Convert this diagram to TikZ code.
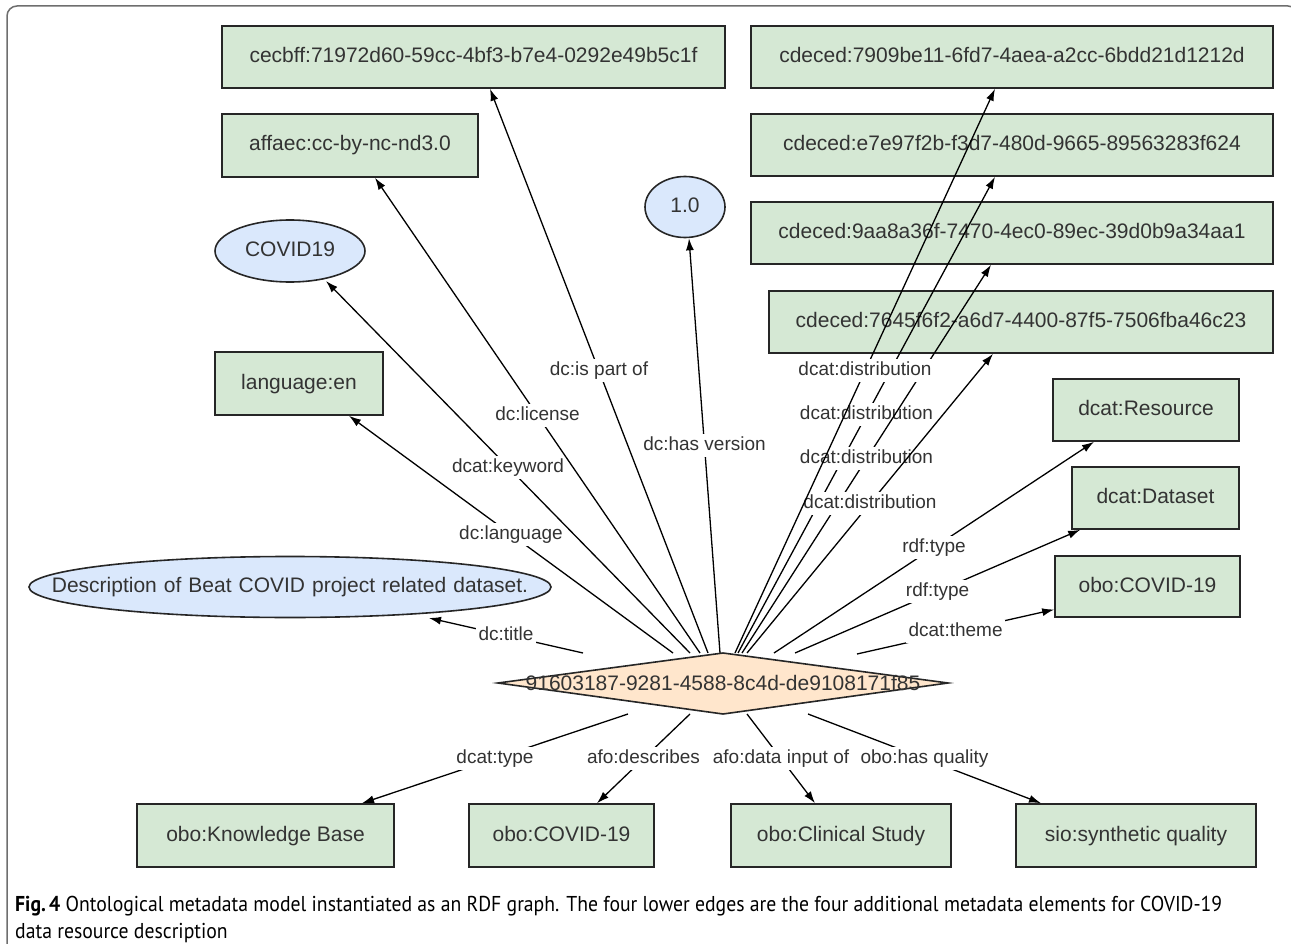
\documentclass[tikz,border=0pt]{standalone}
\usepackage{fontspec}
\usepackage{graphicx}
\setmainfont{Liberation Sans}
\newfontfamily\capfont{PT Sans}
\usetikzlibrary{arrows.meta,calc,shapes.geometric}
\definecolor{gfill}{HTML}{D5E8D4}
\definecolor{bfill}{HTML}{DAE8FC}
\definecolor{ofill}{HTML}{FFE6CC}
\definecolor{txt}{HTML}{333333}
\definecolor{edgec}{HTML}{262626}
\definecolor{framec}{HTML}{6E6E6E}
\newsavebox\capboxA
\newsavebox\capboxB
\newlength\capwA
\begin{document}
\sbox\capboxA{\capfont\fontsize{21.5}{25}\selectfont\textbf{Fig.\,4} Ontological metadata model instantiated as an RDF graph. The four lower edges are the four additional metadata elements for COVID-19}%
\sbox\capboxB{\capfont\fontsize{21.5}{25}\selectfont data resource description}%
\setlength\capwA{\wd\capboxA}%
\pgfmathsetmacro\capr{1207/\capwA}%
\begin{tikzpicture}[x=1pt,y=-1pt,
  box/.style={draw=edgec, line width=1.6pt, fill=gfill, inner sep=0pt, text=txt,
    text height=15pt, text depth=4pt, font=\fontsize{21}{25}\selectfont},
  ell/.style={ellipse, draw=edgec, line width=1.6pt, fill=bfill, inner sep=0pt, text=txt,
    text height=15pt, text depth=4pt, text width=0pt, align=center,
    font=\fontsize{21}{25}\selectfont},
  lbl/.style={fill=white, inner sep=2.5pt, text=txt, text height=14pt, text depth=4pt,
    font=\fontsize{19}{22}\selectfont},
  arr/.style={draw=black, line width=1.3pt, -{Latex[length=12pt,width=8pt]}},
  framestyle/.style={draw=framec, line width=1.5pt, rounded corners=10pt},
]
\useasboundingbox (0,0) rectangle (1291,944);
\draw[framestyle] (7,950) -- (7,6) -- (1298,6) -- (1298,950);

% top-left nodes
\node[box, minimum width=503, minimum height=62] (cecbff) at (473.5,57) {cecbff:71972d60-59cc-4bf3-b7e4-0292e49b5c1f};
\node[box, minimum width=256, minimum height=63] (affaec) at (350,145.5) {affaec:cc-by-nc-nd3.0};
\node[ell, minimum width=150, minimum height=62] (covid) at (290,251) {\makebox[0pt]{COVID19}};
\node[box, minimum width=168, minimum height=63] (lang) at (299,383.5) {language:en};
\node[ell, minimum width=522, minimum height=61] (desc) at (290,587) {\makebox[0pt]{Description of Beat COVID project related dataset.}};
\node[ell, minimum width=80, minimum height=61] (one) at (685,207) {\makebox[0pt]{1.0}};

% top-right nodes
\node[box, minimum width=522, minimum height=62] (c1) at (1012,57) {cdeced:7909be11-6fd7-4aea-a2cc-6bdd21d1212d};
\node[box, minimum width=522, minimum height=62] (c2) at (1012,145) {cdeced:e7e97f2b-f3d7-480d-9665-89563283f624};
\node[box, minimum width=522, minimum height=62] (c3) at (1012,233) {cdeced:9aa8a36f-7470-4ec0-89ec-39d0b9a34aa1};
\node[box, minimum width=504, minimum height=62] (c4) at (1021,322) {cdeced:7645f6f2-a6d7-4400-87f5-7506fba46c23};
\node[box, minimum width=186, minimum height=62] (res) at (1146,410) {dcat:Resource};
\node[box, minimum width=167, minimum height=62] (ds) at (1155.5,498) {dcat:Dataset};
\node[box, minimum width=185, minimum height=61] (ct) at (1147.5,586.5) {obo:COVID-19};

% central diamond
\draw[draw=edgec, line width=1.6pt, fill=ofill, line join=miter, miter limit=20]
  (498,683) -- (723,653) -- (948,683) -- (723,714) -- cycle;
\node[inner sep=0pt, text=txt, font=\fontsize{21}{25}\selectfont] (d) at (723,683) {91603187-9281-4588-8c4d-de9108171f85};

% bottom nodes
\node[box, minimum width=257, minimum height=63] (kb) at (265.5,835.5) {obo:Knowledge Base};
\node[box, minimum width=185, minimum height=63] (cv) at (561.5,835.5) {obo:COVID-19};
\node[box, minimum width=220, minimum height=63] (cs) at (841,835.5) {obo:Clinical Study};
\node[box, minimum width=240, minimum height=63] (sq) at (1136,835.5) {sio:synthetic quality};

% left edges
\draw[arr] ($(d)+(-140,-30)$) -- node[lbl] {dc:title} ($(desc)+(139,31)$);
\draw[arr] ($(d)+(-50,-30)$) -- node[lbl] {dc:language} ($(lang.south)+(50,0)$);
\draw[arr] ($(d)+(-33,-30)$) -- node[lbl] {dcat:keyword} ($(covid)+(36,30)$);
\draw[arr] ($(d)+(-23,-30)$) -- node[lbl] {dc:license} ($(affaec.south)+(25,0)$);
\draw[arr] ($(d)+(-15,-30)$) -- node[lbl] {dc:is part of} ($(cecbff.south)+(16.5,0)$);
\draw[arr] ($(d)+(-3,-30)$) -- node[lbl] {dc:has version} ($(one.south)+(4,0)$);

% distribution edges
\draw[arr] ($(d)+(15,-30)$) -- node[lbl] {dcat:distribution} ($(c2.south)+(-17,0)$);
\draw[arr] ($(d)+(19,-30)$) -- node[lbl] {dcat:distribution} ($(c3.south)+(-21,0)$);
\draw[arr] ($(d)+(24,-30)$) -- node[lbl] {dcat:distribution} ($(c4.south)+(-28,0)$);
\draw[arr] ($(d)+(12,-30)$) -- node[lbl] {dcat:distribution} ($(c1.south)+(-17,0)$);

% right edges
\draw[arr] ($(d)+(51,-30)$) -- node[lbl] {rdf:type} ($(res.south)+(-52,0)$);
\draw[arr] ($(d)+(72,-30)$) -- node[lbl] {rdf:type} ($(ds.south west)+(9,0)$);
\draw[arr] ($(d)+(134,-29)$) -- node[lbl] {dcat:theme} ($(ct.west)+(0,23)$);

% bottom edges
\draw[arr] ($(d)+(-95,31)$) -- node[lbl] {dcat:type} ($(kb.north)+(96.5,0)$);
\draw[arr] ($(d)+(-33,31)$) -- node[lbl] {afo:describes} ($(cv.north)+(35.5,0)$);
\draw[arr] ($(d)+(24,31)$) -- node[lbl] {afo:data input of} ($(cs.north)+(-26,0)$);
\draw[arr] ($(d)+(85,31)$) -- node[lbl] {obo:has quality} ($(sq.north)+(-95,0)$);

% caption
\node[anchor=west, inner sep=0pt] (cap1) at (15,906) {\scalebox{\capr}[1]{\usebox\capboxA}};
\node[anchor=west, inner sep=0pt] (cap2) at (15,933) {\scalebox{\capr}[1]{\usebox\capboxB}};
\end{tikzpicture}
\end{document}
